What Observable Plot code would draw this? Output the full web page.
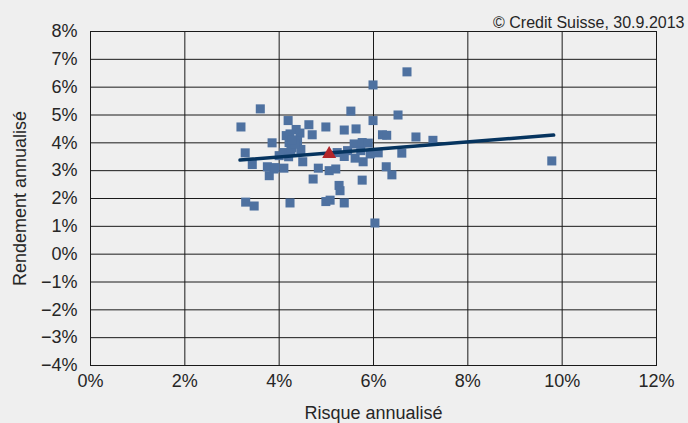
<!DOCTYPE html>
<html>
<head>
<meta charset="utf-8">
<script src="https://cdn.jsdelivr.net/npm/d3@7"></script>
<script src="https://cdn.jsdelivr.net/npm/@observablehq/plot@0.6"></script>
<style>
  html, body { margin: 0; padding: 0; background: #efefef; }
  #chart svg { display: block; }
</style>
</head>
<body>
<div id="chart"></div>
<script>
// Portfolio points: annualised risk (%) and annualised return (%)
const risk = [3.19,3.28,3.43,3.29,3.47,3.60,3.75,3.89,3.79,3.85,4.00,4.10,4.10,4.15,4.23,4.19,4.21,4.27,4.25,4.36,
  4.44,4.39,4.46,4.50,4.63,4.70,4.23,4.72,4.83,4.99,5.06,5.20,5.23,4.99,5.08,5.27,5.29,5.38,5.38,5.52,
  5.63,5.45,5.38,5.59,5.61,5.76,5.78,5.76,5.89,5.93,5.99,5.99,6.03,6.10,6.19,6.28,6.27,6.39,6.52,6.60,
  6.71,6.90,7.26,9.78,4.20,4.33,5.73,3.91,4.28];
const ret = [4.57,3.64,3.22,1.87,1.73,5.22,3.14,3.06,2.82,4.00,3.54,3.65,3.09,4.26,4.32,4.80,4.01,3.83,3.72,4.48,
  4.35,4.08,3.76,3.32,4.65,4.29,1.84,2.70,3.09,4.57,3.00,3.06,3.65,1.89,1.94,2.47,2.28,1.84,4.46,5.14,
  4.50,3.72,3.51,3.96,3.45,4.01,3.32,2.66,3.99,3.60,4.80,6.08,1.12,3.64,4.29,4.27,3.14,2.85,5.00,3.63,
  6.55,4.21,4.09,3.35,3.50,3.95,3.72,3.11,4.10];
// Average portfolio (red triangle)
const avgRisk = [5.06];
const avgReturn = [3.60];
// Trend line end points
const trendRisk = [3.17, 9.82];
const trendReturn = [3.38, 4.28];
// Ticks
const xTicks = [0, 2, 4, 6, 8, 10, 12];
const yTicks = [-4, -3, -2, -1, 0, 1, 2, 3, 4, 5, 6, 7, 8];
const caption = "© Credit Suisse, 30.9.2013";
const xLabel = "Risque annualisé";
const yLabel = "Rendement annualisé";

const points = risk.map((r, i) => ({risk: r, ret: ret[i]}));
const avg = avgRisk.map((r, i) => ({risk: r, ret: avgReturn[i]}));
const trend = trendRisk.map((r, i) => ({risk: r, ret: trendReturn[i]}));
const pct = d => (d < 0 ? "\u2212" : "") + Math.abs(d) + "%";

const chart = Plot.plot({
  width: 688,
  height: 423,
  marginLeft: 90,
  marginRight: 32,
  marginTop: 31,
  marginBottom: 58,
  style: {background: "#efefef", fontFamily: "Liberation Sans, Arial, sans-serif", color: "#262626"},
  x: {domain: [0, 12], ticks: xTicks, tickFormat: pct},
  y: {domain: [-4, 8], ticks: yTicks, tickFormat: pct},
  marks: [
    Plot.gridX(xTicks, {stroke: "#1a1a1a", strokeOpacity: 1, strokeWidth: 1}),
    Plot.gridY(yTicks, {stroke: "#1a1a1a", strokeOpacity: 1, strokeWidth: 1}),
    Plot.frame({stroke: "#1a1a1a", strokeWidth: 1}),
    Plot.axisX(xTicks, {tickSize: 0, tickPadding: 9, fontSize: 18, tickFormat: pct, label: xLabel, labelAnchor: "center", labelArrow: "none", labelOffset: 53}),
    Plot.axisY(yTicks, {tickSize: 0, tickPadding: 13, fontSize: 18, tickFormat: pct, label: yLabel, labelAnchor: "center", labelArrow: "none", labelOffset: 77}),
    Plot.dot(points, {x: "risk", y: "ret", symbol: "square", r: 5.1, fill: "#4e71a0", stroke: "none"}),
    Plot.line(trend, {x: "risk", y: "ret", stroke: "#06345f", strokeWidth: 3.5}),
    Plot.dot(avg, {x: "risk", y: "ret", symbol: "triangle", r: 5.2, fill: "#b3262a", stroke: "none"}),
    Plot.text([caption], {frameAnchor: "top-right", dx: 28, dy: -15, fontSize: 16, fill: "#262626", textAnchor: "end"})
  ]
});
document.getElementById("chart").appendChild(chart);
</script>
</body>
</html>
